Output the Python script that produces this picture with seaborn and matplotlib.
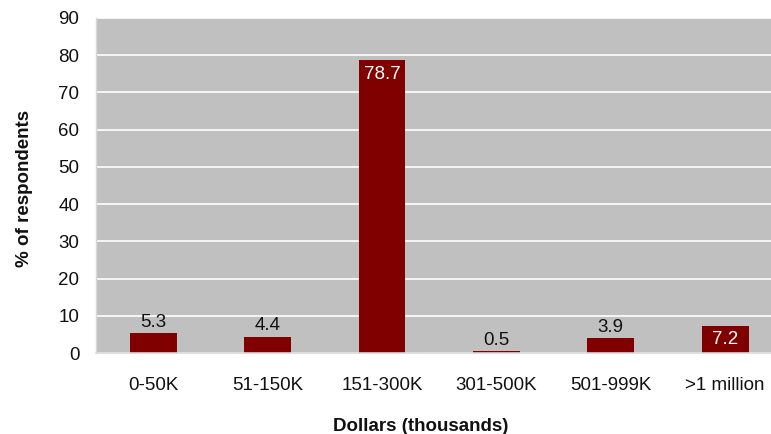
import matplotlib
matplotlib.use("Agg")
import matplotlib.pyplot as plt
import seaborn as sns
import pandas as pd
import numpy as np

# Survey data: share of respondents per dollar range
categories = ["0-50K", "51-150K", "151-300K", "301-500K", "501-999K", ">1 million"]
percent = [5.3, 4.4, 78.7, 0.5, 3.9, 7.2]
y_ticks = [0, 10, 20, 30, 40, 50, 60, 70, 80, 90]

df = pd.DataFrame({"range": categories, "pct": percent})

sns.set_theme(style="white")
plt.rcParams["font.family"] = ["Liberation Sans", "DejaVu Sans"]

fig = plt.figure(figsize=(7.71, 4.34), dpi=100)
ax = fig.add_axes([96 / 771, 1 - 353 / 434, 1 - 96 / 771, 335 / 434])

bar_color = "#800000"
sns.barplot(data=df, x="range", y="pct", color=bar_color, width=0.41,
            saturation=1, linewidth=0, edgecolor="none", ax=ax, zorder=3)

ax.set_facecolor("#C0C0C0")
ax.set_xlim(-0.5, 5.4)
ax.set_ylim(0, 90)
ax.set_yticks(y_ticks)
ax.set_yticklabels([str(t) for t in y_ticks])
ax.yaxis.grid(True, color="white", linewidth=1.2, zorder=0)
ax.set_axisbelow(True)

for side in ["top", "right", "bottom"]:
    ax.spines[side].set_visible(False)
ax.spines["left"].set_color("#D8D8D8")
ax.spines["left"].set_linewidth(1)

# tick marks at category boundaries, labels at category centres
fs = 13.5
ax.set_xticks(range(len(categories)))
ax.set_xticklabels(categories)
ax.set_xticks(np.arange(0.5, len(categories) - 0.5, 1.0), minor=True)
ax.tick_params(axis="x", which="major", length=0, pad=17, labelsize=fs, colors="#111111")
ax.tick_params(axis="x", which="minor", length=6, width=1, color="#D0D0D0")
ax.tick_params(axis="y", which="major", length=0, pad=12, labelsize=fs, colors="#111111")
ax.axhline(0, color="#D8D8D8", linewidth=1.2, zorder=4, clip_on=False)

ax.set_xlabel("Dollars (thousands)", fontsize=fs, fontweight="bold", color="#111111")
ax.set_ylabel("% of respondents", fontsize=fs, fontweight="bold", color="#111111")
ax.xaxis.set_label_coords((421 - 96) / (771 - 96), -65 / 335)
ax.yaxis.set_label_coords(-63 / (771 - 96), 0.49)

# value labels: inside (white) for the tall and the last bar, above otherwise
for i, v in enumerate(percent):
    if v > 50:
        ax.text(i, v - 1.6, f"{v}", ha="center", va="top", color="white",
                fontsize=fs, zorder=5)
    elif i == len(percent) - 1:
        ax.text(i, v / 2, f"{v}", ha="center", va="center", color="white",
                fontsize=fs, zorder=5)
    else:
        ax.text(i, v + 0.6, f"{v}", ha="center", va="bottom", color="#111111",
                fontsize=fs, zorder=5)

fig.savefig("out.png", dpi=100)
